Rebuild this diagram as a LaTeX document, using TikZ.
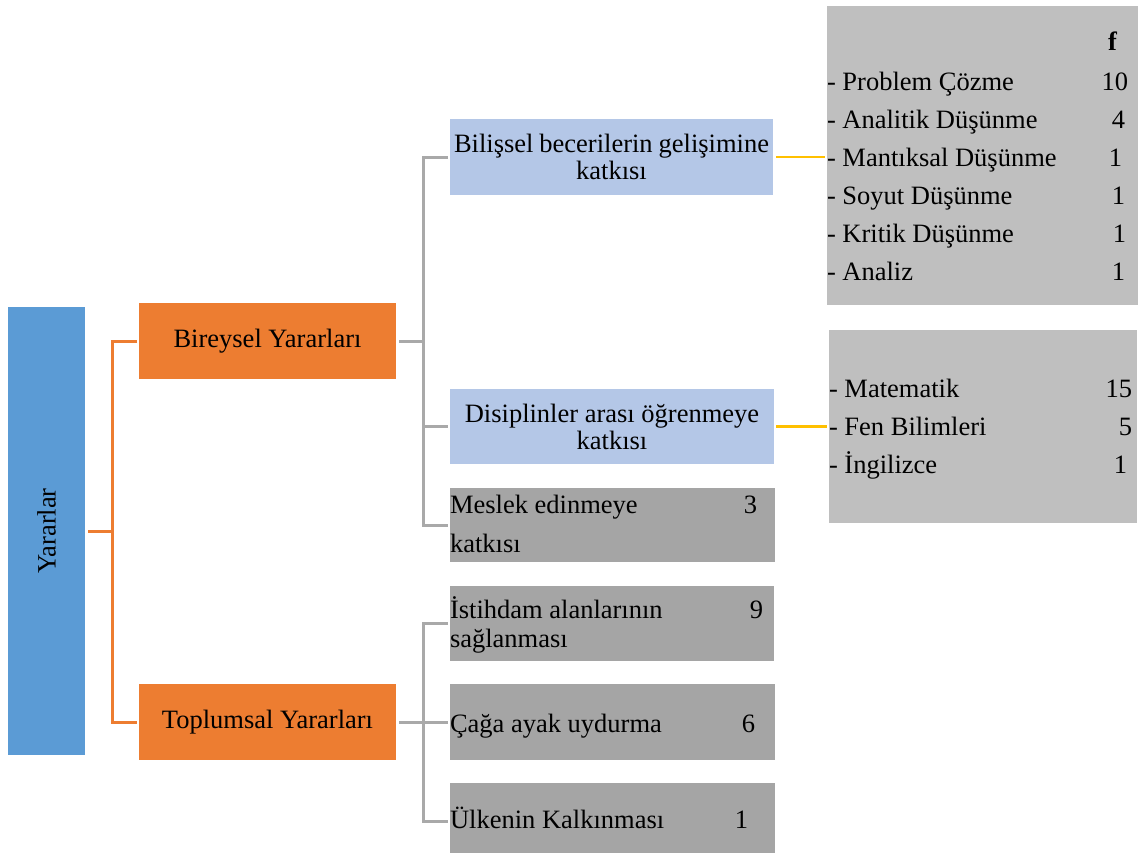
\documentclass[tikz,border=0pt]{standalone}
\usepackage{fontspec}
\setmainfont{Liberation Serif}
\definecolor{cBlue}{HTML}{5B9BD5}
\definecolor{cOrange}{HTML}{ED7D31}
\definecolor{cLightBlue}{HTML}{B4C7E7}
\definecolor{cLightGrey}{HTML}{BFBFBF}
\definecolor{cGrey}{HTML}{A5A5A5}
\definecolor{cLine}{HTML}{A9A9A9}
\definecolor{cYellow}{HTML}{FFC000}
\newcommand{\diagfont}{\fontsize{26.5}{27}\selectfont}
\begin{document}
\begin{tikzpicture}[x=1pt,y=-1pt,
  box/.style={draw=none, inner sep=0pt, outer sep=0pt,
    font=\diagfont, align=center},
  txt/.style={inner sep=0pt, outer sep=0pt, font=\diagfont},
  lw/.style={txt, anchor=base west},
  le/.style={txt, anchor=base east},
  oline/.style={draw=cOrange, line width=3pt},
  gline/.style={draw=cLine, line width=3pt},
  yline/.style={draw=cYellow, line width=2.8pt}]
\useasboundingbox (0,0) rectangle (1142,852);
\clip (0,0) rectangle (1142,852);

% root
\node[box, fill=cBlue, minimum width=77, minimum height=448] (yar) at (46.5,531) {};
\node[txt, rotate=90] (yart) at (yar.center) {Yararlar};

% first level
\node[box, fill=cOrange, minimum width=257, minimum height=76] (bir) at (267.5,341) {Bireysel Yararları};
\node[box, fill=cOrange, minimum width=257, minimum height=76] (top) at (267.5,722) {Toplumsal Yararları};

% second level, individual benefits
\node[box, fill=cLightBlue, minimum width=323, minimum height=76] (bil) at (611.5,157)
  {\makebox[315pt][s]{Bilişsel becerilerin gelişimine}\\katkısı};
\node[box, fill=cLightBlue, minimum width=324, minimum height=75] (dis) at (612,426.5)
  {Disiplinler arası öğrenmeye\\katkısı};
\node[box, fill=cGrey, minimum width=325, minimum height=74] (mes) at (612.5,525) {};
\node[lw] (mes1) at (450,513) {Meslek edinmeye};
\node[lw] (mes2) at (450,552) {katkısı};
\node[le] (mesn) at (757,513) {3};

% second level, social benefits
\node[box, fill=cGrey, minimum width=324, minimum height=75] (ist) at (612,623.5) {};
\node[lw] (ist1) at (450,618) {İstihdam alanlarının};
\node[lw] (ist2) at (450,647) {sağlanması};
\node[le] (istn) at (763,618) {9};
\node[box, fill=cGrey, minimum width=325, minimum height=76] (cag) at (612.5,722) {};
\node[lw] (cag1) at (450,732) {Çağa ayak uydurma};
\node[le] (cagn) at (755,732) {6};
\node[box, fill=cGrey, minimum width=325, minimum height=76] (ulk) at (612.5,821) {};
\node[lw] (ulk1) at (450,828) {Ülkenin Kalkınması};
\node[le] (ulkn) at (748,828) {1};

% frequency lists
\node[box, fill=cLightGrey, minimum width=311, minimum height=299] (l1) at (982.5,155.5) {};
\node[le, font=\diagfont\bfseries] (l1h) at (1117,50) {f};
\node[lw] (l1a) at (827,90) {- Problem Çözme};
\node[le] (l1an) at (1128,90) {10};
\node[lw] (l1b) at (827,128) {- Analitik Düşünme};
\node[le] (l1bn) at (1125,128) {4};
\node[lw] (l1c) at (827,166) {- Mantıksal Düşünme};
\node[le] (l1cn) at (1122,166) {1};
\node[lw] (l1d) at (827,204) {- Soyut Düşünme};
\node[le] (l1dn) at (1125,204) {1};
\node[lw] (l1e) at (827,242) {- Kritik Düşünme};
\node[le] (l1en) at (1126,242) {1};
\node[lw] (l1f) at (827,280) {- Analiz};
\node[le] (l1fn) at (1125,280) {1};

\node[box, fill=cLightGrey, minimum width=308, minimum height=193] (l2) at (983,426.5) {};
\node[lw] (l2a) at (829,397) {- Matematik};
\node[le] (l2an) at (1132,397) {15};
\node[lw] (l2b) at (829,435) {- Fen Bilimleri};
\node[le] (l2bn) at (1132,435) {5};
\node[lw] (l2c) at (829,473) {- İngilizce};
\node[le] (l2cn) at (1127,473) {1};

% connectors from the root
\coordinate (jo) at (112,531);
\draw[oline] ([xshift=3]yar.east) -- (jo);
\draw[oline] ([xshift=-2]bir.west) -| (jo) |- ([xshift=-2]top.west);

% connectors of the individual branch
\coordinate (jg1) at (423,341);
\draw[gline] ([xshift=3]bir.east) -- (jg1);
\draw[gline] ([xshift=-2]bil.west) -| (jg1) |- ([xshift=-2]mes.west);
\draw[gline] (jg1 |- dis.west) -- ([xshift=-2]dis.west);

% connectors of the social branch
\coordinate (jg2) at (423,722);
\draw[gline] ([xshift=3]top.east) -- (jg2);
\draw[gline] ([xshift=-2]ist.west) -| (jg2) |- ([xshift=-2]ulk.west);
\draw[gline] (jg2) -- ([xshift=-2]cag.west);

% links to the frequency lists
\draw[yline] ([xshift=3]bil.east) -- ([xshift=-2]bil.east -| l1.west);
\draw[yline] ([xshift=2]dis.east) -- ([xshift=-2]dis.east -| l2.west);
\end{tikzpicture}
\end{document}
